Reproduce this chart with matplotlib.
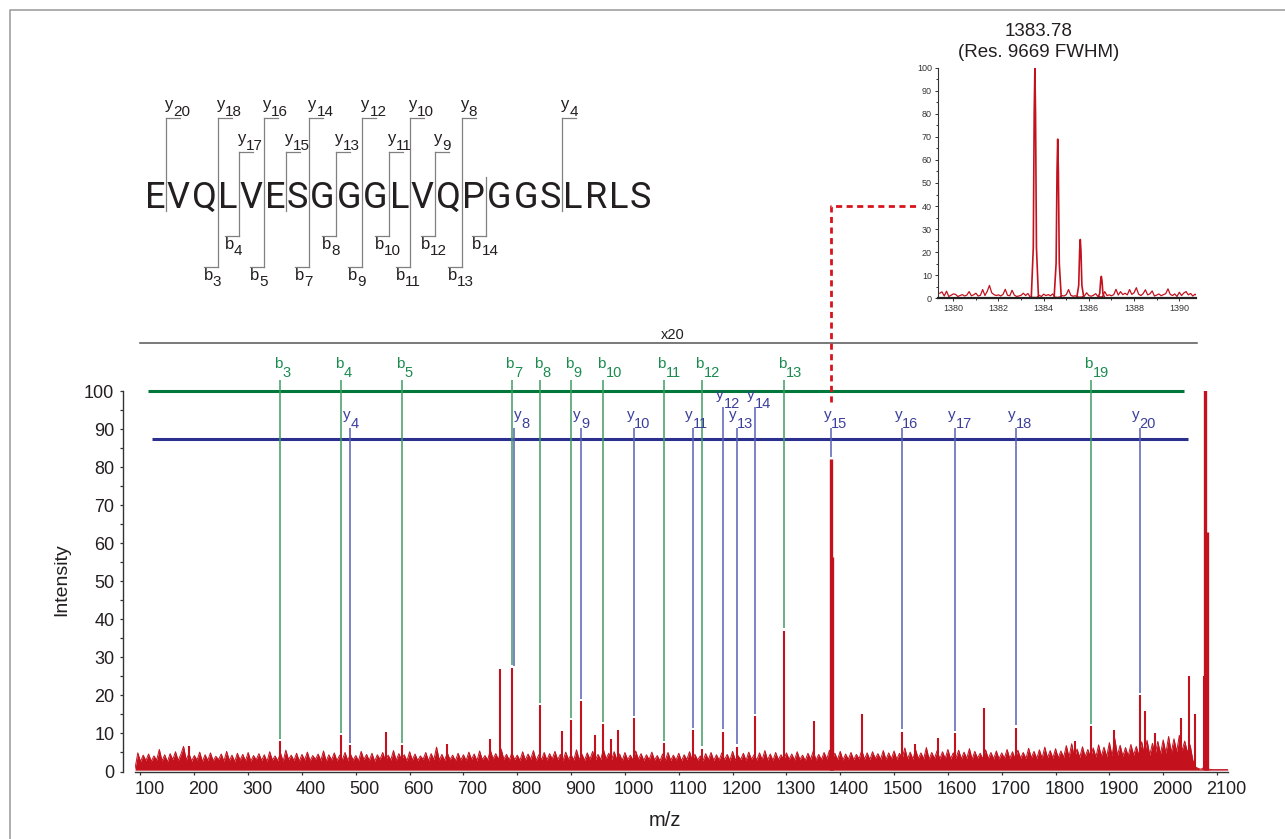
import numpy as np
import matplotlib
matplotlib.use("Agg")
import matplotlib.pyplot as plt
from matplotlib import font_manager
from matplotlib.font_manager import FontProperties
from matplotlib.transforms import ScaledTranslation

# ---------------- data ----------------
sequence = "EVQLVESGGGLVQPGGSLRLS"
seq_b_ions = [3, 4, 5, 7, 8, 9, 10, 11, 12, 13, 14]
seq_y_ions = [4, 8, 9, 10, 11, 12, 13, 14, 15, 16, 17, 18, 20]

# baseline noise of the full spectrum, one value every 5 m/z from 90
noise_start = 90
noise_step = 5
noise_int = [
    0.9, 4.9, 2.6, 4.3, 2.9, 4.6, 2.7, 4.1, 3.0, 5.8, 2.8, 4.4, 2.5, 4.7, 3.1, 5.2, 2.9, 4.5, 6.6, 3.0,
    4.8, 2.7, 4.2, 3.0, 5.1, 2.6, 4.4, 2.9, 4.9, 2.8, 4.0, 3.1, 4.6, 2.7, 5.3, 2.9, 4.3, 2.6, 4.8, 3.0,
    4.5, 2.8, 5.0, 2.7, 4.2, 3.1, 4.7, 2.9, 4.4, 2.6, 5.2, 3.0, 4.1, 2.8, 4.9, 2.7, 5.6, 3.1, 4.3, 2.9,
    4.8, 2.7, 4.5, 3.0, 5.1, 2.8, 4.2, 3.2, 4.6, 2.9, 5.4, 2.7, 4.4, 3.0, 4.9, 2.8, 4.3, 3.1, 5.0, 2.9,
    4.6, 3.0, 4.2, 2.8, 5.3, 3.1, 4.5, 2.9, 4.8, 2.7, 4.4, 3.2, 5.0, 2.8, 4.3, 3.0, 5.5, 2.9, 4.7, 3.1,
    4.4, 2.8, 5.2, 3.0, 4.6, 2.9, 4.1, 3.2, 5.0, 2.8, 4.7, 3.1, 6.4, 3.0, 4.5, 2.9, 4.9, 3.1, 4.3, 2.8,
    4.8, 3.0, 4.4, 2.9, 5.1, 3.2, 4.6, 2.8, 5.4, 3.1, 4.2, 3.0, 5.6, 3.3, 4.7, 3.1, 5.9, 3.2, 4.5, 3.0,
    4.9, 3.1, 4.3, 2.9, 5.2, 3.0, 4.6, 3.2, 5.5, 2.9, 4.4, 3.1, 5.0, 3.0, 4.7, 3.3, 5.3, 3.1, 4.5, 2.9,
    5.1, 3.2, 4.4, 3.0, 5.7, 3.1, 4.6, 2.9, 4.9, 3.2, 5.3, 3.0, 4.5, 3.1, 5.8, 3.3, 4.8, 3.0, 5.2, 3.1,
    4.6, 2.9, 5.0, 3.1, 4.3, 3.0, 5.4, 3.2, 4.7, 2.9, 4.4, 3.1, 5.1, 3.0, 4.2, 2.8, 4.6, 3.0, 5.0, 2.9,
    4.3, 3.0, 4.8, 2.8, 4.4, 3.1, 5.2, 2.9, 4.5, 3.0, 4.1, 2.8, 4.7, 3.1, 5.0, 2.9, 4.4, 3.0, 4.9, 3.1,
    4.5, 2.9, 5.3, 3.0, 4.2, 3.1, 4.8, 2.9, 5.1, 3.2, 4.4, 3.0, 4.9, 3.1, 5.5, 3.0, 4.6, 2.9, 5.0, 3.1,
    4.4, 3.0, 4.9, 3.2, 4.6, 3.0, 5.2, 3.1, 4.3, 2.9, 4.8, 3.2, 5.4, 3.0, 4.5, 3.1, 5.0, 3.3, 5.6, 3.2,
    4.8, 3.1, 5.3, 3.0, 4.6, 3.2, 5.0, 3.1, 4.5, 3.3, 5.6, 3.2, 4.9, 3.1, 5.2, 3.4, 4.7, 3.2, 5.5, 3.1,
    4.9, 3.3, 5.4, 3.2, 4.8, 3.4, 6.2, 3.3, 5.1, 3.2, 5.7, 3.4, 4.9, 3.3, 6.3, 3.2, 5.0, 3.4, 5.5, 3.3,
    5.2, 3.4, 5.8, 3.3, 4.9, 3.5, 5.6, 3.3, 5.1, 3.4, 6.0, 3.2, 5.3, 3.5, 4.8, 3.3, 5.7, 3.4, 5.0, 3.3,
    5.4, 3.3, 4.9, 3.5, 5.8, 3.4, 5.2, 3.3, 5.6, 3.5, 5.0, 3.4, 6.1, 3.6, 5.3, 3.4, 5.7, 3.5, 6.4, 3.6,
    5.5, 3.5, 6.0, 3.6, 5.4, 3.7, 6.8, 3.8, 7.3, 3.6, 5.9, 3.7, 6.5, 3.9, 5.8, 3.7, 6.2, 3.8, 7.0, 4.0,
    6.4, 3.9, 7.6, 4.1, 8.7, 4.2, 6.9, 4.0, 6.3, 4.1, 7.1, 4.3, 6.6, 4.2, 7.8, 4.4, 8.2, 4.3, 7.4, 4.5,
    7.9, 4.6, 8.3, 4.8, 9.2, 5.0, 8.6, 5.2, 9.5, 5.5, 8.0, 5.0, 7.0, 3.0, 1.2,
    0.8, 0.6, 1.0, 1.0, 0.6, 0.5, 0.5, 0.5, 0.5, 0.5, 0.5, 0.5,
]

# distinct peaks (m/z, relative intensity)
peak_mz = [190, 360, 473, 490, 556, 586, 670, 749, 768, 790, 843, 883, 900, 918,
           944, 960, 974, 987, 1017, 1072, 1126, 1143, 1183, 1208, 1241, 1296, 1351,
           1383, 1384, 1385, 1386, 1440, 1515, 1538, 1582, 1614, 1667, 1726, 1836,
           1865, 1909, 1956, 1966, 1984, 2034, 2048, 2059, 2075, 2078, 2081]
peak_int = [6.8, 8.0, 9.5, 7.0, 10.3, 7.0, 7.2, 8.5, 27.0, 27.3, 17.5, 10.7, 13.5, 18.5,
            9.5, 12.5, 8.5, 11.0, 14.0, 7.5, 10.8, 6.0, 10.5, 6.5, 14.5, 37.0, 13.3,
            82.0, 56.5, 21.0, 8.0, 15.0, 10.5, 7.2, 8.9, 10.0, 16.7, 11.5, 8.0,
            12.0, 11.0, 20.0, 16.0, 10.0, 14.0, 25.0, 15.0, 25.0, 100.5, 63.0]

b_ions = [3, 4, 5, 7, 8, 9, 10, 11, 12, 13, 19]
b_mz = [360, 473, 586, 790, 843, 900, 960, 1072, 1143, 1296, 1865]
b_int = [8.0, 9.5, 7.0, 27.3, 17.5, 13.5, 12.5, 7.5, 6.0, 37.0, 12.0]

y_ions = [4, 8, 9, 10, 11, 12, 13, 14, 15, 16, 17, 18, 20]
y_mz = [490, 793, 918, 1017, 1126, 1183, 1208, 1241, 1383, 1515, 1614, 1726, 1956]
y_int = [7.0, 27.0, 18.5, 14.0, 10.8, 10.5, 6.5, 14.5, 82.0, 10.5, 10.0, 11.5, 20.0]

# inset: zoom on the y15 isotope cluster, noise every 0.1 m/z from 1379.4
inset_start = 1379.4
inset_step = 0.1
inset_noise = [
    2.2, 2.8, 1.0, 3.1, 0.8, 1.3, 1.9, 1.7, 0.8, 1.2,
    1.6, 1.0, 1.4, 2.9, 1.1, 1.5, 2.2, 1.0, 1.3, 3.8,
    1.2, 3.0, 5.6, 2.4, 1.6, 1.2, 1.5, 1.0, 1.7, 3.9,
    1.3, 1.1, 3.5, 1.4, 0.8, 1.0, 1.3, 2.2, 1.2, 2.1,
    0.6, 0.4, 0.4, 0.4, 1.3, 0.8, 1.8, 1.2, 1.6, 1.1,
    1.9, 0.5, 0.4, 0.5, 1.2, 1.0, 1.6, 3.8, 1.3, 0.9,
    1.1, 0.6, 0.5, 0.6, 1.0, 2.4, 1.2, 0.9, 1.3, 2.0,
    0.8, 0.6, 0.7, 2.9, 1.2, 1.5, 1.1, 1.6, 3.9, 1.4,
    2.9, 1.6, 2.2, 1.5, 3.8, 1.7, 2.4, 4.6, 1.8, 1.2,
    2.0, 3.7, 1.5, 1.9, 3.2, 1.0, 1.4, 1.9, 1.1, 1.6,
    2.0, 4.1, 1.7, 1.2, 1.9, 0.8, 2.6, 1.2, 2.3, 2.9,
    1.5, 2.1, 1.0, 1.8, 0.9,
]
iso_mz = [1383.61, 1384.62, 1385.62, 1386.55]
iso_int = [100, 69, 25.5, 9.5]

inset_title = "1383.78\n(Res. 9669 FWHM)"
zoom_text = "x20"
main_xticks = np.arange(100, 2101, 100)

# ---------------- styles ----------------
RED = "#c3121e"
GREEN_H, GREEN_V, GREEN_T = "#00773b", "#3e9c63", "#1b8b4f"
BLUE_H, BLUE_V, BLUE_T = "#2b2f8e", "#5860b3", "#3b3f9b"
GREY = "#808080"
INK = "#231f20"

names = {f.name for f in font_manager.fontManager.ttflist}
plt.rcParams["font.family"] = ["Liberation Sans", "DejaVu Sans"]
# the peptide is set in a condensed face; take the narrowest one installed
if "Liberation Sans Narrow" in names:
    seq_family, seq_size = "Liberation Sans Narrow", 26.5
elif "Roboto" in names:
    seq_family, seq_size = "Roboto", 26
else:
    seq_family, seq_size = "Liberation Sans", 24


def advance(text, family, size):
    font = font_manager.get_font(font_manager.findfont(FontProperties(family=family)))
    font.set_size(size, 100)
    return [font.load_char(ord(c)).linearHoriAdvance / 65536 for c in text]


W, H = 1285, 839
fig = plt.figure(figsize=(W / 100, H / 100), dpi=100)


def box(l, t, r, b):
    return [l / W, 1 - b / H, (r - l) / W, (b - t) / H]


# overlay in pixel units for the page frame and the sequence map
ov = fig.add_axes([0, 0, 1, 1], zorder=0)
ov.set_xlim(0, W)
ov.set_ylim(H, 0)
ov.axis("off")
ov.plot([10, 10, W], [H, 10, 10], color="#a0a0a0", lw=1.2)

# ---- sequence with fragment brackets ----
adv = advance(sequence, seq_family, seq_size)
seq_x0, seq_span, seq_base = 144.5, 507, 208
track = (seq_span - sum(adv)) / (len(sequence) - 1)
pitch = np.array(adv) + track
edges = seq_x0 - track / 2 + np.concatenate([[0], np.cumsum(pitch)])
for c, l, r in zip(sequence, edges[:-1], edges[1:]):
    ov.text((l + r) / 2, seq_base, c, ha="center", va="baseline",
            fontsize=seq_size, family=seq_family, color=INK)

cap = 0.72 * seq_size * 100 / 72
lab_size, sub_size = 12, 11
adv_y = advance("y", "Liberation Sans", lab_size)[0]
adv_b = advance("b", "Liberation Sans", lab_size)[0]
n_res = len(sequence)
for k in range(1, n_res):
    has_b = k in seq_b_ions
    has_y = (n_res - k) in seq_y_ions
    if not (has_b or has_y):
        continue
    x = edges[k]
    top = (118 if (n_res - k) % 2 == 0 else 152) if has_y else seq_base - cap - 5
    bot = (267 if k % 2 == 1 else 236) if has_b else seq_base + 3
    ov.plot([x, x], [top, bot], color=GREY, lw=0.9)
    if has_y:
        ov.plot([x, x + 14], [top, top], color=GREY, lw=0.9)
        ov.text(x - 1, top - 9, "y", fontsize=lab_size, color=INK, va="baseline")
        ov.text(x - 1 + adv_y, top - 2, str(n_res - k), fontsize=sub_size,
                color=INK, va="baseline")
    if has_b:
        ov.plot([x - 14, x], [bot, bot], color=GREY, lw=0.9)
        ov.text(x - 14, bot + 13, "b", fontsize=lab_size, color=INK, va="baseline")
        ov.text(x - 14 + adv_b, bot + 19, str(k), fontsize=sub_size,
                color=INK, va="baseline")

# ---------------- main spectrum ----------------
ax = fig.add_axes(box(135, 391, 1228, 771.5), zorder=2)
ax.patch.set_visible(False)
ax.set_xlim(89.8, 2120.4)
ax.set_ylim(0, 100)

noise_x = noise_start + noise_step * np.arange(len(noise_int))
ax.fill_between(noise_x, 0.35, noise_int, color=RED, lw=0)
ax.plot(noise_x, noise_int, color=RED, lw=0.7)
lws = [2.4 if v > 50 else 1.5 for v in peak_int]
ax.vlines(peak_mz, 0.35, peak_int, color=RED, lw=lws)

for s in ("top", "right"):
    ax.spines[s].set_visible(False)
ax.spines["left"].set_position(("outward", 8.9))
ax.spines["left"].set_bounds(0, 100)
for s in ("left", "bottom"):
    ax.spines[s].set_color("#333333")
    ax.spines[s].set_linewidth(1.0)
ax.set_xticks(main_xticks)
ax.set_yticks(np.arange(0, 101, 10))
ax.set_yticks(np.arange(0, 101, 5), minor=True)
ax.tick_params(axis="x", direction="out", length=2.5, width=0.9, pad=4.7,
               labelsize=13, colors="#333333", labelcolor=INK)
ax.tick_params(axis="y", which="major", direction="out", length=2.5, width=0.9,
               pad=3.5, labelsize=13, colors="#333333", labelcolor=INK)
ax.tick_params(axis="y", which="minor", direction="out", length=2.2, width=0.9,
               colors="#333333")
shift = ScaledTranslation(9 / 100, 0, fig.dpi_scale_trans)
for t in ax.xaxis.get_major_ticks():
    t.label1.set_transform(t.label1.get_transform() + shift)

fig.text(62 / W, 1 - 580 / H, "Intensity", rotation=90, ha="center", va="center",
         fontsize=14, color=INK)
fig.text(665 / W, 1 - 826 / H, "m/z", ha="center", va="baseline", fontsize=14.5,
         color=INK)

# zoom bracket line "x20"
yt = ax.get_yaxis_transform()
ax.plot([0.0046, 0.9716], [112.5, 112.5], transform=yt, color="#555555", lw=1.1,
        clip_on=False)
ax.text(0.492, 113.6, zoom_text, transform=yt, ha="center", va="baseline",
        fontsize=10.5, color=INK, clip_on=False)

# ion ladders
ax.plot([0.0119, 0.9597], [100, 100], transform=yt, color=GREEN_H, lw=2.2,
        clip_on=False, solid_capstyle="butt")
ax.plot([0.0155, 0.9634], [87.4, 87.4], transform=yt, color=BLUE_H, lw=2.2,
        clip_on=False, solid_capstyle="butt")

b_top, y_top = 102.9, 90.3
ax.vlines(b_mz, np.array(b_int) + 0.6, b_top, color=GREEN_V, lw=1.1, clip_on=False)
y_tops = [y_top + (5.4 if n in (12, 14) else 0) for n in y_ions]
ax.vlines(y_mz, np.array(y_int) + 0.6, y_tops, color=BLUE_V, lw=1.1, clip_on=False)

m_lab, m_sub = 11, 10.5
a_b = advance("b", "Liberation Sans", m_lab)[0]
a_y = advance("y", "Liberation Sans", m_lab)[0]


def ion_label(x, y, letter, num, color, dx, dy, drop, a):
    ax.annotate(letter, (x, y), xytext=(dx, dy), textcoords="offset pixels",
                ha="left", va="baseline", fontsize=m_lab, color=color,
                annotation_clip=False)
    ax.annotate(str(num), (x, y), xytext=(dx + a, dy - drop),
                textcoords="offset pixels", ha="left", va="baseline",
                fontsize=m_sub, color=color, annotation_clip=False)


for n, mz in zip(b_ions, b_mz):
    ion_label(mz, b_top, "b", n, GREEN_T, -6.5, 11.7, 8.4, a_b)
for n, mz, top in zip(y_ions, y_mz, y_tops):
    ion_label(mz, top, "y", n, BLUE_T, 0 if n == 8 else -7.5, 8.5, 8.8, a_y)

# ---------------- inset ----------------
ins = fig.add_axes(box(937.7, 67.7, 1196, 298.3), zorder=3)
ins.set_xlim(1379.31, 1390.74)
ins.set_ylim(0, 100)
ins_x = inset_start + inset_step * np.arange(len(inset_noise))
ins.plot(ins_x, inset_noise, color=RED, lw=0.9)
shape_dx = [-0.16, -0.07, -0.03, 0, 0.03, 0.07, 0.16]
shape_f = [0.0, 0.22, 0.8, 1.0, 0.8, 0.22, 0.0]
for mz, h in zip(iso_mz, iso_int):
    ins.plot([mz + d for d in shape_dx], [h * f for f in shape_f], color=RED, lw=1.2)
for s in ("top", "right"):
    ins.spines[s].set_visible(False)
ins.spines["left"].set_linewidth(0.8)
ins.spines["bottom"].set_linewidth(1.6)
ins.spines["left"].set_color("#333333")
ins.spines["bottom"].set_color("#222222")
ins.set_xticks(np.arange(1380, 1391, 2))
ins.set_xticks(np.arange(1380, 1391, 1), minor=True)
ins.set_yticks(np.arange(0, 101, 10))
ins.set_yticks(np.arange(0, 101, 5), minor=True)
ins.tick_params(axis="both", which="major", direction="out", length=2.2, width=0.7,
                labelsize=6.5, pad=2, colors="#333333", labelcolor="#333333")
ins.tick_params(axis="both", which="minor", direction="out", length=1.6, width=0.7,
                colors="#333333")
fig.text(1039 / W, 1 - 36 / H, inset_title.split("\n")[0], ha="center",
         va="baseline", fontsize=13.5, color=INK)
fig.text(1039 / W, 1 - 57 / H, inset_title.split("\n")[1], ha="center",
         va="baseline", fontsize=13.5, color=INK)

# dashed connector from the y15 peak to the inset
y15_mz = y_mz[y_ions.index(15)]
y_disp = ins.transData.transform((1380, 40))[1]
x_disp = ins.transAxes.transform((0, 0))[0] - 22
xe, ye = ax.transData.inverted().transform((x_disp, y_disp))
ax.plot([y15_mz, y15_mz, xe], [97.2, ye, ye], color="#d7141e", lw=2.0,
        dashes=(2.2, 1.6), clip_on=False)

fig.savefig("out.png", dpi=100)
